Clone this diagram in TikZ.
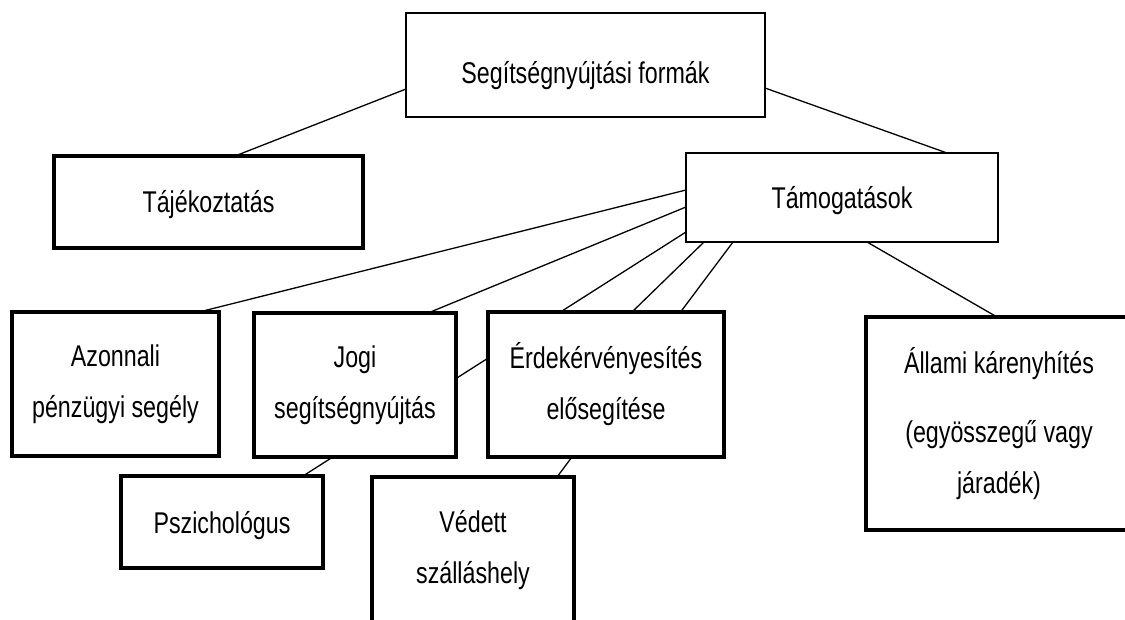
\documentclass[tikz,border=0pt]{standalone}
\usepackage{fontspec}
\newfontfamily\nfont{Liberation Sans}[FakeStretch=0.775]
\usetikzlibrary{backgrounds}
\begin{document}
\begin{tikzpicture}[x=1pt,y=-1pt,
 box/.style={draw, fill=white, inner sep=0pt, outer sep=0pt, align=center,
   font=\nfont\fontsize{30}{51}\selectfont, text=black},
 thinbox/.style={box, line width=1.8pt},
 thickbox/.style={box, line width=3.5pt},
 conn/.style={line width=1.3pt, line cap=round}]
\useasboundingbox (0,0) rectangle (1125,619);

\node[thinbox, minimum width=359pt, minimum height=104pt, text height=43pt, text depth=7pt] (seg) at (585.5,65) {Segítségnyújtási formák};
\node[thickbox, minimum width=309pt, minimum height=92pt, text height=27pt, text depth=7pt] (taj) at (208.5,202) {Tájékoztatás};
\node[thinbox, minimum width=312pt, minimum height=89pt, text height=28pt, text depth=7pt] (tam) at (842,197.5) {Támogatások};
\node[thickbox, minimum width=207pt, minimum height=144pt] (azo) at (115.5,384) {Azonnali\\pénzügyi segély};
\node[thickbox, minimum width=202pt, minimum height=144pt] (jogi) at (355,385) {Jogi\\segítségnyújtás};
\node[thickbox, minimum width=236pt, minimum height=145pt] (erd) at (606,384.5) {Érdekérvényesítés\\elősegítése};
\node[thickbox, minimum width=266pt, minimum height=213pt] (all) at (999,423.5) {Állami kárenyhítés\\[18pt](egyösszegű vagy\\járadék)};
\node[thickbox, minimum width=202pt, minimum height=92pt, text height=29pt, text depth=7pt] (psz) at (222,522) {Pszichológus};
\node[thickbox, minimum width=202pt, minimum height=146pt] (ved) at (473,550) {Védett\\szálláshely};

% attachment points
\coordinate (segL) at (406,89);
\coordinate (segR) at (765,88);
\coordinate (tajT) at (235,156);
\coordinate (tamT) at (947,153);
\coordinate (tamL1) at (686,190);
\coordinate (tamL2) at (686,207);
\coordinate (tamL3) at (686,232);
\coordinate (tamB1) at (704,242);
\coordinate (tamB2) at (733,242);
\coordinate (tamB3) at (867,242);
\coordinate (azoT) at (203,311);
\coordinate (jogiT) at (428,313);
\coordinate (pszT) at (303,476);
\coordinate (erdT) at (632,312);
\coordinate (vedT) at (557,477);
\coordinate (allT) at (997,317);

\begin{scope}[on background layer]
\fill[white] (0,0) rectangle (1125,619);
\draw[conn] (segL) -- (tajT);
\draw[conn] (segR) -- (tamT);
\draw[conn] (tamL1) -- (azoT);
\draw[conn] (tamL2) -- (jogiT);
\draw[conn] (tamL3) -- (pszT);
\draw[conn] (tamB1) -- (erdT);
\draw[conn] (tamB2) -- (vedT);
\draw[conn] (tamB3) -- (allT);
\end{scope}
\end{tikzpicture}
\end{document}
